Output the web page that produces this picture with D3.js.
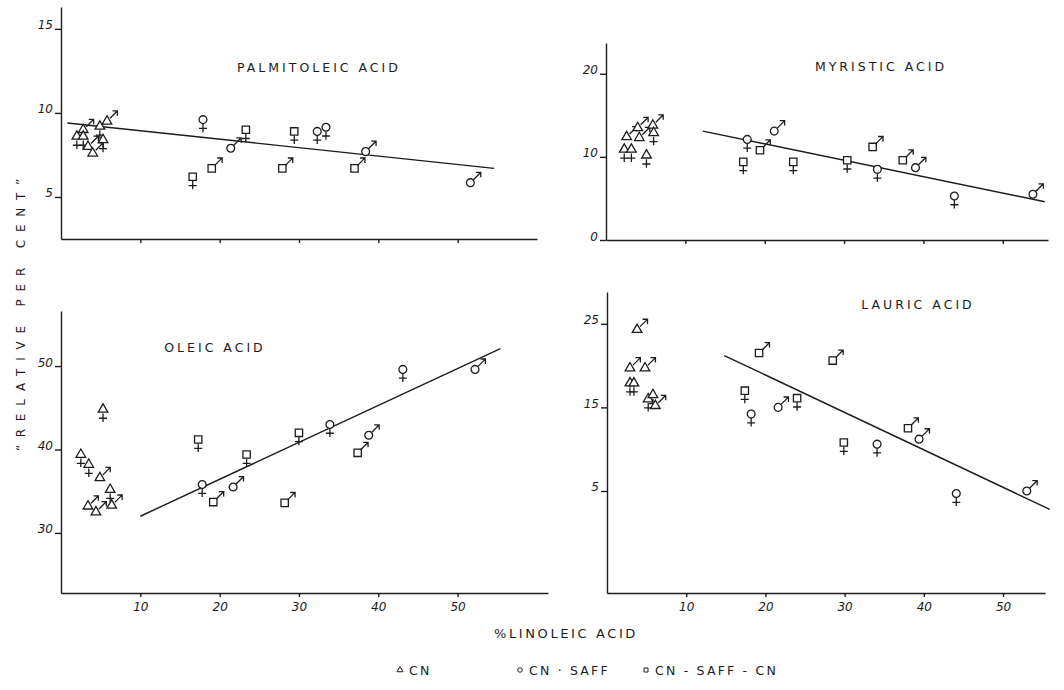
<!DOCTYPE html>
<html>
<head>
<meta charset="utf-8">
<script src="https://cdn.jsdelivr.net/npm/d3@7"></script>
<style>
  body { margin: 0; background: #fff; }
  svg { display: block; }
  text { font-family: "DejaVu Sans", sans-serif; fill: #1c1c1c; }
  .tick text { font-size: 12px; font-style: italic; }
  .tick line, .domain { stroke: #1c1c1c; stroke-width: 1.4; }
</style>
</head>
<body>
<svg id="chart" width="1064" height="690"></svg>
<script>
// [linoleic %, relative per cent, diet group, sex]
const palmitoleic = [
  [2.0, 8.6, "CN", "f"], [2.8, 9.0, "CN", "m"], [2.8, 8.6, "CN", "f"],
  [3.4, 8.0, "CN", "m"], [4.0, 7.6, "CN", "m"], [4.9, 9.2, "CN", "f"],
  [5.8, 9.5, "CN", "m"], [5.3, 8.4, "CN", "f"],
  [16.6, 6.2, "SCN", "f"], [17.9, 9.6, "S", "f"], [19.0, 6.7, "SCN", "m"],
  [21.4, 7.9, "S", "m"], [23.3, 9.0, "SCN", "f"], [27.9, 6.7, "SCN", "m"],
  [29.4, 8.9, "SCN", "f"], [32.3, 8.9, "S", "f"], [33.4, 9.15, "S", "f"],
  [37.0, 6.7, "SCN", "m"], [38.4, 7.7, "S", "m"], [51.6, 5.85, "S", "m"]
];
const myristic = [
  [2.6, 12.4, "CN", "m"], [4.0, 13.5, "CN", "m"], [4.2, 12.3, "CN", "m"],
  [5.9, 13.8, "CN", "m"], [6.0, 12.9, "CN", "f"], [2.3, 10.9, "CN", "f"],
  [3.2, 10.9, "CN", "f"], [5.1, 10.2, "CN", "f"],
  [17.8, 12.1, "S", "f"], [19.4, 10.8, "SCN", "m"], [21.2, 13.1, "S", "m"],
  [17.3, 9.4, "SCN", "f"], [23.6, 9.4, "SCN", "f"], [30.4, 9.6, "SCN", "f"],
  [34.2, 8.5, "S", "f"], [33.6, 11.2, "SCN", "m"], [37.4, 9.6, "SCN", "m"],
  [39.0, 8.7, "S", "m"], [43.9, 5.3, "S", "f"], [53.8, 5.5, "S", "m"]
];
const oleic = [
  [2.5, 39.4, "CN", "f"], [3.5, 38.2, "CN", "f"], [4.9, 36.6, "CN", "m"],
  [6.2, 35.2, "CN", "f"], [3.4, 33.2, "CN", "m"], [4.4, 32.5, "CN", "m"],
  [6.4, 33.3, "CN", "m"], [5.3, 44.8, "CN", "f"],
  [17.3, 41.2, "SCN", "f"], [17.8, 35.8, "S", "f"], [19.2, 33.7, "SCN", "m"],
  [21.7, 35.5, "S", "m"], [23.4, 39.4, "SCN", "f"], [28.2, 33.6, "SCN", "m"],
  [30.0, 42.0, "SCN", "f"], [33.9, 43.0, "S", "f"], [37.4, 39.6, "SCN", "m"],
  [38.8, 41.7, "S", "m"], [43.1, 49.6, "S", "f"], [52.2, 49.6, "S", "m"]
];
const lauric = [
  [3.8, 24.3, "CN", "m"], [2.9, 19.7, "CN", "m"], [4.8, 19.7, "CN", "m"],
  [2.9, 17.9, "CN", "f"], [3.4, 17.9, "CN", "f"], [5.2, 16.0, "CN", "f"],
  [5.8, 16.5, "CN", "f"], [6.1, 15.2, "CN", "m"],
  [19.2, 21.5, "SCN", "m"], [28.5, 20.6, "SCN", "m"], [17.4, 17.0, "SCN", "f"],
  [18.2, 14.2, "S", "f"], [21.6, 15.0, "S", "m"], [24.0, 16.1, "SCN", "f"],
  [29.9, 10.8, "SCN", "f"], [34.1, 10.6, "S", "f"], [38.0, 12.5, "SCN", "m"],
  [39.4, 11.2, "S", "m"], [44.1, 4.7, "S", "f"], [53.0, 5.0, "S", "m"]
];

// fitted lines: [x0, y0, x1, y1]
const fitPalmitoleic = [0.8, 9.4, 54.6, 6.7];
const fitMyristic = [12.2, 13.1, 55.3, 4.6];
const fitOleic = [10.0, 32.0, 55.4, 52.1];
const fitLauric = [14.8, 21.2, 55.9, 2.8];

const xTicks = [10, 20, 30, 40, 50];
const legendItems = [["CN", "CN"], ["S", "CN · SAFF"], ["SCN", "CN - SAFF - CN"]];

const panels = [
  { title: "PALMITOLEIC ACID", data: palmitoleic, fit: fitPalmitoleic,
    xd: [0, 60], xr: [61, 537], yd: [2.5, 16.3], yr: [239, 7], yTicks: [5, 10, 15],
    labels: false, tx: 319, ty: 72 },
  { title: "MYRISTIC ACID", data: myristic, fit: fitMyristic,
    xd: [0, 55.7], xr: [606, 1048], yd: [0, 23.7], yr: [240, 43], yTicks: [0, 10, 20],
    labels: false, tx: 881, ty: 71 },
  { title: "OLEIC ACID", data: oleic, fit: fitOleic,
    xd: [0, 61.4], xr: [61, 548], yd: [22.8, 56.6], yr: [593, 311], yTicks: [30, 40, 50],
    labels: true, tx: 215, ty: 352 },
  { title: "LAURIC ACID", data: lauric, fit: fitLauric,
    xd: [0, 55.3], xr: [607, 1045], yd: [-7.2, 28.8], yr: [593, 292], yTicks: [5, 15, 25],
    labels: true, tx: 918, ty: 309 }
];

const shapes = { CN: d3.symbolTriangle, S: d3.symbolCircle, SCN: d3.symbolSquare };
const sizes = { CN: 40, S: 48, SCN: 54 };

const svg = d3.select("#chart");
const ink = "#1c1c1c";

function marker(g, group, sex) {
  g.append("path")
    .attr("d", d3.symbol().type(shapes[group]).size(sizes[group])())
    .attr("fill", "#fff").attr("stroke", ink).attr("stroke-width", 1.3);
  if (sex === "m") {
    g.append("path")
      .attr("d", "M3,-3L10,-10M5.5,-10.4L10.4,-10.4L10.4,-5.5")
      .attr("fill", "none").attr("stroke", ink).attr("stroke-width", 1.3);
  } else {
    g.append("path")
      .attr("d", "M0,4L0,12.5M-4,8.8H4")
      .attr("fill", "none").attr("stroke", ink).attr("stroke-width", 1.3);
  }
}

panels.forEach(p => {
  const x = d3.scaleLinear().domain(p.xd).range(p.xr);
  const y = d3.scaleLinear().domain(p.yd).range(p.yr);
  const g = svg.append("g");

  g.append("g")
    .attr("transform", `translate(0,${p.yr[0]})`)
    .call(d3.axisBottom(x).tickValues(xTicks).tickSize(4).tickSizeOuter(0)
      .tickFormat(p.labels ? d3.format("d") : ""))
    .call(a => a.selectAll(".tick text").attr("dy", "0.9em"));

  g.append("g")
    .attr("transform", `translate(${p.xr[0]},0)`)
    .call(d3.axisLeft(y).tickValues(p.yTicks).tickSize(6).tickPadding(2).tickSizeOuter(0))
    .call(a => a.selectAll(".tick text").attr("dy", "0"));

  g.append("text")
    .attr("x", p.tx).attr("y", p.ty)
    .attr("text-anchor", "middle")
    .attr("font-size", 12.5)
    .attr("letter-spacing", 3)
    .text(p.title);

  g.append("line")
    .attr("x1", x(p.fit[0])).attr("y1", y(p.fit[1]))
    .attr("x2", x(p.fit[2])).attr("y2", y(p.fit[3]))
    .attr("stroke", ink).attr("stroke-width", 1.4);

  g.selectAll(".pt")
    .data(p.data)
    .join("g")
    .attr("class", "pt")
    .attr("transform", d => `translate(${x(d[0])},${y(d[1])})`)
    .each(function (d) { marker(d3.select(this), d[2], d[3]); });
});

svg.append("text")
  .attr("transform", "translate(25,311) rotate(-90)")
  .attr("text-anchor", "middle")
  .attr("font-size", 12)
  .attr("letter-spacing", 7.8)
  .text("\u201CRELATIVE  PER  CENT\u201D");

svg.append("text")
  .attr("x", 566).attr("y", 638)
  .attr("text-anchor", "middle")
  .attr("font-size", 13)
  .attr("letter-spacing", 2.6)
  .text("%LINOLEIC  ACID");

const legendX = [400, 520, 646];
legendItems.forEach((item, i) => {
  const lg = svg.append("g").attr("transform", `translate(${legendX[i]},670)`);
  lg.append("path")
    .attr("d", d3.symbol().type(shapes[item[0]]).size(16)())
    .attr("fill", "none").attr("stroke", ink).attr("stroke-width", 1);
  lg.append("text")
    .attr("x", 9).attr("y", 5)
    .attr("font-size", 12.5)
    .attr("letter-spacing", 2.2)
    .text(item[1]);
});
</script>
</body>
</html>
